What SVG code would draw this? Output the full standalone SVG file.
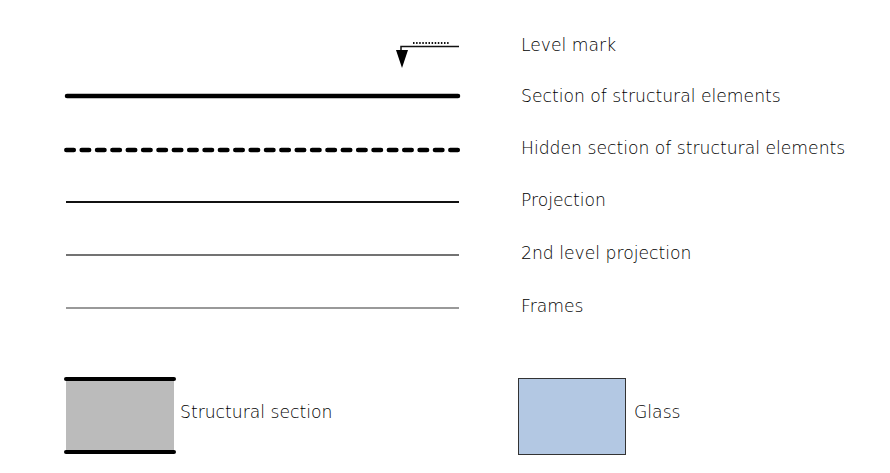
<svg xmlns="http://www.w3.org/2000/svg" width="890" height="473" viewBox="0 0 890 473">
<style>
text{font-family:"DejaVu Sans","Liberation Sans",sans-serif;font-size:17.2px;fill:#000;font-weight:300}
.ln{fill:none;stroke-linecap:round}
</style>
<rect width="890" height="473" fill="#fff"/>
<g id="connectors">
<g id="level-mark-symbol">
<line x1="413" y1="43" x2="449" y2="43" stroke="#111" stroke-width="2" stroke-dasharray="1.5 1.6"/>
<polyline points="459,46.5 401,46.5 401,55" fill="none" stroke="#111" stroke-width="1.5"/>
<polygon points="396,50 408,50 402,68" fill="#000"/>
</g>
<line class="ln" x1="67" y1="96" x2="458" y2="96" stroke="#000" stroke-width="4.5"/>
<line x1="66.3" y1="150" x2="457.8" y2="150" stroke="#000" stroke-width="4.5" stroke-linecap="round" stroke-dasharray="7.5 7.86"/>
<line x1="66" y1="202" x2="459" y2="202" stroke="#111" stroke-width="2"/>
<line x1="66" y1="255" x2="459" y2="255" stroke="#444" stroke-width="1.5"/>
<line x1="66" y1="308" x2="459" y2="308" stroke="#777" stroke-width="1.5"/>
</g>
<g id="label-level"><text x="521" y="51">Level mark</text></g>
<g id="label-section"><text x="521" y="102">Section of structural elements</text></g>
<g id="label-hidden"><text x="521" y="154">Hidden section of structural elements</text></g>
<g id="label-projection"><text x="521" y="206">Projection</text></g>
<g id="label-2nd"><text x="521" y="259">2nd level projection</text></g>
<g id="label-frames"><text x="521" y="312">Frames</text></g>
<g id="structural-section">
<rect x="66" y="379" width="108" height="73" fill="#bbbbbb"/>
<line class="ln" x1="66" y1="379" x2="174" y2="379" stroke="#000" stroke-width="4"/>
<line class="ln" x1="66" y1="452" x2="174" y2="452" stroke="#000" stroke-width="4"/>
<text x="180" y="418">Structural section</text>
</g>
<g id="glass">
<rect x="518.5" y="378.5" width="107" height="76" fill="#b3c8e3" stroke="#333" stroke-width="1"/>
<text x="634" y="418">Glass</text>
</g>
</svg>
